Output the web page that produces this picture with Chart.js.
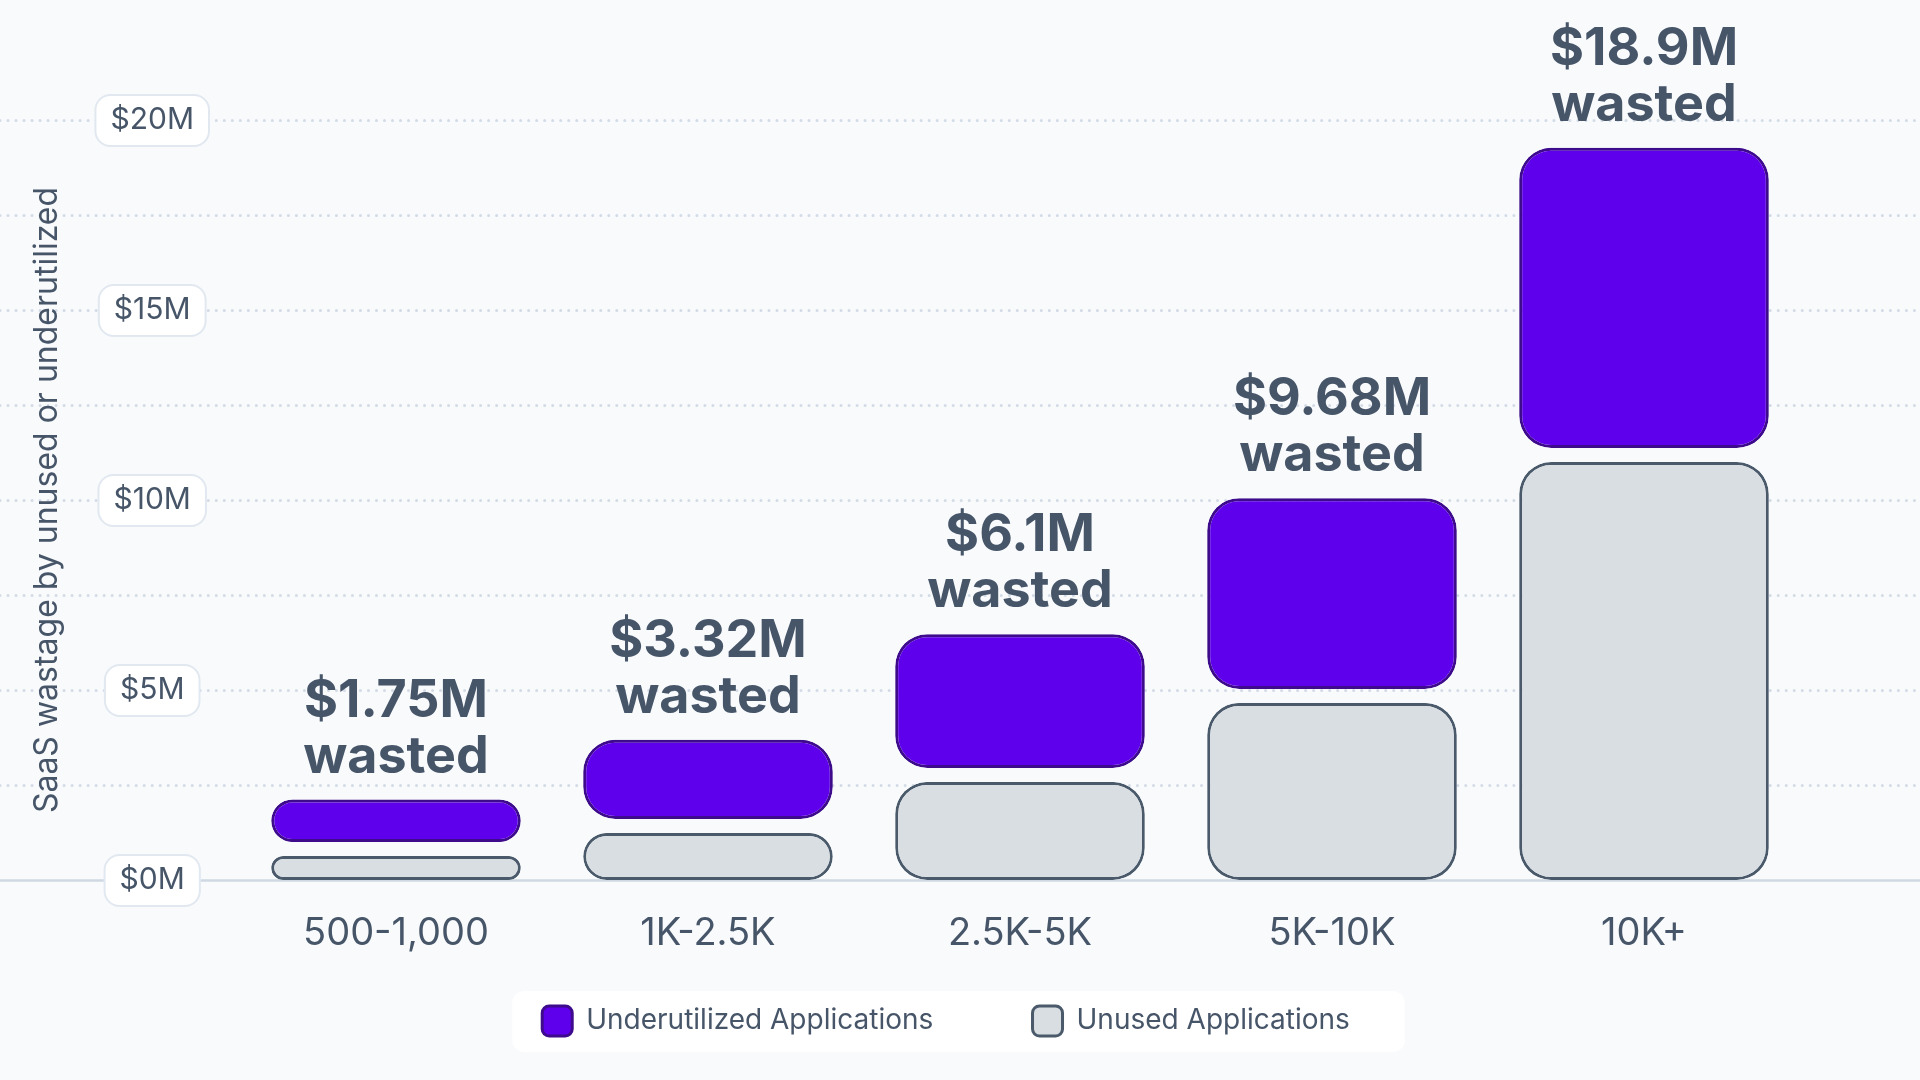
<!DOCTYPE html>
<html>
<head>
<meta charset="utf-8">
<script src="https://cdn.jsdelivr.net/npm/chart.js@4.4.1/dist/chart.umd.min.js"></script>
<style>
  html, body { margin: 0; padding: 0; background: #f8fafc; }
</style>
</head>
<body>
<canvas id="wasteChart" width="1920" height="1080"></canvas>
<script>
// company size buckets and wasted spend in $M
const companySizes = ['500-1,000', '1K-2.5K', '2.5K-5K', '5K-10K', '10K+'];
const unusedApps = [0.63, 1.24, 2.58, 4.66, 11.0];
const underutilizedApps = [1.12, 2.08, 3.52, 5.02, 7.9];
const totalWasted = ['$1.75M', '$3.32M', '$6.1M', '$9.68M', '$18.9M'];
const yTickValues = [0, 5, 10, 15, 20];

const TEXT = '#475569';
const LIFT = 14; // purple piece sits a little above the grey one

const fmt = v => '$' + v + 'M';

// purple piece floats on top of the grey one (floating bars keep all 4 corners round)
const underRanges = underutilizedApps.map((v, i) => [unusedApps[i], unusedApps[i] + v]);

const decor = {
  id: 'decor',
  beforeDraw(chart) {
    const {ctx, width} = chart;
    const y = chart.scales.y;
    ctx.save();
    // dotted grid across the whole width
    y.ticks.forEach(t => {
      const py = Math.round(y.getPixelForValue(t.value)) + 0.5;
      ctx.beginPath();
      if (t.value === 0) {
        ctx.setLineDash([]);
        ctx.strokeStyle = '#cfd8e3';
        ctx.lineWidth = 2.5;
      } else {
        ctx.setLineDash([0.01, 8]);
        ctx.lineCap = 'round';
        ctx.strokeStyle = '#d3dbe6';
        ctx.lineWidth = 3;
      }
      ctx.moveTo(0, py);
      ctx.lineTo(width, py);
      ctx.stroke();
    });
    ctx.setLineDash([]);

    // pill boxes behind the y labels
    ctx.font = '30px Inter';
    const labels = yTickValues.map(fmt);
    const widest = Math.max(...labels.map(s => ctx.measureText(s).width));
    const cx = y.right - y.options.ticks.padding - widest / 2;
    yTickValues.forEach((v, i) => {
      const w = ctx.measureText(labels[i]).width + 30;
      const py = y.getPixelForValue(v);
      ctx.beginPath();
      ctx.roundRect(cx - w / 2, py - 25, w, 51, 15);
      ctx.fillStyle = '#ffffff';
      ctx.fill();
      ctx.strokeStyle = '#e2e8f0';
      ctx.lineWidth = 2;
      ctx.stroke();
    });

    // white panel behind legend
    const boxes = chart.legend.legendHitBoxes;
    if (boxes && boxes.length) {
      const left = Math.min(...boxes.map(b => b.left)) - 30;
      const right = Math.max(...boxes.map(b => b.left + b.width)) + 55;
      const mid = boxes[0].top + boxes[0].height / 2;
      ctx.beginPath();
      ctx.roundRect(left, mid - 30, right - left, 61, 12);
      ctx.fillStyle = '#ffffff';
      ctx.fill();
    }
    ctx.restore();
  },
  beforeDatasetDraw(chart, args) {
    if (args.index === 1) {
      chart.ctx.save();
      chart.ctx.translate(0, -LIFT);
    }
  },
  afterDatasetDraw(chart, args) {
    if (args.index === 1) chart.ctx.restore();
  },
  afterDatasetsDraw(chart) {
    const {ctx} = chart;
    const meta = chart.getDatasetMeta(1);
    ctx.save();
    ctx.font = 'bold 52px Inter';
    ctx.fillStyle = TEXT;
    ctx.textAlign = 'center';
    ctx.textBaseline = 'alphabetic';
    meta.data.forEach((bar, i) => {
      const top = bar.y - LIFT;
      ctx.fillText('wasted', bar.x, top - 27);
      ctx.fillText(totalWasted[i], bar.x, top - 83);
    });
    ctx.restore();
  }
};

function build() {
  new Chart('wasteChart', {
    type: 'bar',
    data: {
      labels: companySizes,
      datasets: [{
        label: 'Unused Applications',
        data: unusedApps,
        backgroundColor: '#d9dee3',
        borderColor: '#4a5a6b',
        borderWidth: 3,
        borderRadius: 32,
        borderSkipped: false,
        grouped: false,
        barPercentage: 0.8,
        categoryPercentage: 1,
        clip: false
      }, {
        label: 'Underutilized Applications',
        data: underRanges,
        backgroundColor: '#5f00ec',
        borderColor: '#3d0b8c',
        borderWidth: 3,
        borderRadius: 32,
        borderSkipped: false,
        grouped: false,
        barPercentage: 0.8,
        categoryPercentage: 1,
        clip: false
      }]
    },
    options: {
      responsive: false,
      animation: false,
      layout: { padding: { top: 120, right: 28, bottom: 34, left: 0 } },
      scales: {
        x: {
          afterFit(s) { s.height = 74; },
          grid: { display: false, drawTicks: false },
          border: { display: false },
          ticks: { padding: 33, color: TEXT, font: { family: 'Inter', size: 38, lineHeight: 1.1 } }
        },
        y: {
          min: 0,
          max: 20,
          afterFit(s) { s.width = 240; },
          grid: { display: false, drawTicks: false },
          border: { display: false },
          ticks: {
            stepSize: 2.5,
            padding: 46,
            crossAlign: 'center',
            color: TEXT,
            font: { family: 'Inter', size: 30 },
            callback: v => yTickValues.includes(v) ? fmt(v) : ''
          },
          title: {
            display: true,
            text: 'SaaS wastage by unused or underutilized',
            color: TEXT,
            font: { family: 'Inter', size: 32 },
            padding: { top: 28, bottom: 0 }
          }
        },
        // empty strip on the right so the plot ends where the reference does
        spacer: {
          type: 'linear',
          position: 'right',
          afterFit(s) { s.width = 92; },
          grid: { display: false, drawTicks: false },
          border: { display: false },
          ticks: { display: false }
        }
      },
      plugins: {
        tooltip: { enabled: false },
        legend: {
          position: 'bottom',
          reverse: true,
          labels: {
            color: TEXT,
            font: { family: 'Inter', size: 28 },
            boxWidth: 30,
            boxHeight: 30,
            padding: 52,
            useBorderRadius: true,
            borderRadius: 7,
            generateLabels(chart) {
              const items = Chart.defaults.plugins.legend.labels.generateLabels(chart);
              // a little extra room after the first entry
              items.forEach(it => { if (it.datasetIndex === 1) it.text += '      '; });
              return items;
            }
          }
        }
      }
    },
    plugins: [decor]
  });
}

document.fonts.load('30px Inter').then(build, build);
</script>
</body>
</html>
